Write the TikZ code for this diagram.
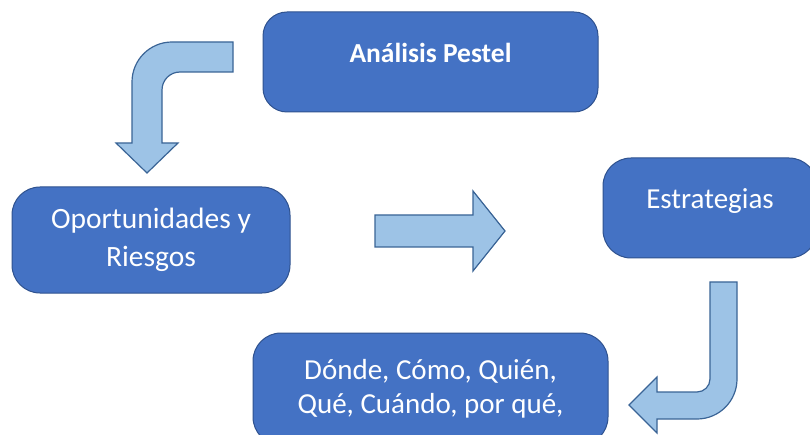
\documentclass[tikz,border=0pt]{standalone}
\usepackage{fontspec}
\setmainfont{Carlito}
\usepackage{tikz}
\usetikzlibrary{positioning}

\definecolor{boxblue}{HTML}{4472C4}
\definecolor{boxline}{HTML}{2F528F}
\definecolor{arrowfill}{HTML}{9DC3E6}
\definecolor{arrowline}{HTML}{3A6496}

\begin{document}
\begin{tikzpicture}[
    x=1pt, y=-1pt,
    box/.style={rectangle,rounded corners=28pt,draw=boxline,line width=1pt,fill=boxblue,
        text=white,align=center,inner sep=0pt,font=\fontsize{29}{36}\selectfont},
    oneline/.style={text height=18pt,text depth=16pt},
    blockarrow/.style={draw=arrowline,line width=1.2pt,fill=arrowfill,line join=miter}
]
    \clip (0,0) rectangle (810,435);
    \fill[white] (0,0) rectangle (810,435);

    \node[box,oneline,minimum width=335pt,minimum height=100pt,rounded corners=24pt,
        font=\fontsize{27.5}{32}\selectfont\bfseries] (P) at (430.5,62) {Análisis Pestel};
    \node[box,minimum width=278pt,minimum height=106pt,font=\fontsize{29.5}{38}\selectfont]
        (OR) at (151,240) {Oportunidades y\\Riesgos};
    \node[box,oneline,minimum width=214pt,minimum height=100pt] (E) at (710,208) {Estrategias};
    \node[box,minimum width=355pt,minimum height=112pt,font=\fontsize{29}{34}\selectfont]
        (Q) at (430.5,389) {Dónde, Cómo, Quién,\\Qué, Cuándo, por qué,};

    % bent arrow from P down to OR
    \draw[blockarrow] (233,42) -- (172,42) arc[start angle=90,end angle=180,radius=40pt]
        -- (132,143) -- (116,143) -- (147,173) -- (178,143) -- (162,143) -- (162,90)
        arc[start angle=180,end angle=90,radius=18pt] -- (233,72) -- cycle;
    % straight arrow from OR to E
    \draw[blockarrow] (375,215) -- (473,215) -- (473,191) -- (505,231) -- (473,271)
        -- (473,247) -- (375,247) -- cycle;
    % bent arrow from E down to Q
    \draw[blockarrow] (710,282) -- (737,282) -- (737,379) arc[start angle=0,end angle=-90,radius=40pt]
        -- (657,419) -- (657,433) -- (629,405) -- (657,377) -- (657,392) -- (697,392)
        arc[start angle=-90,end angle=0,radius=13pt] -- cycle;
\end{tikzpicture}
\end{document}
